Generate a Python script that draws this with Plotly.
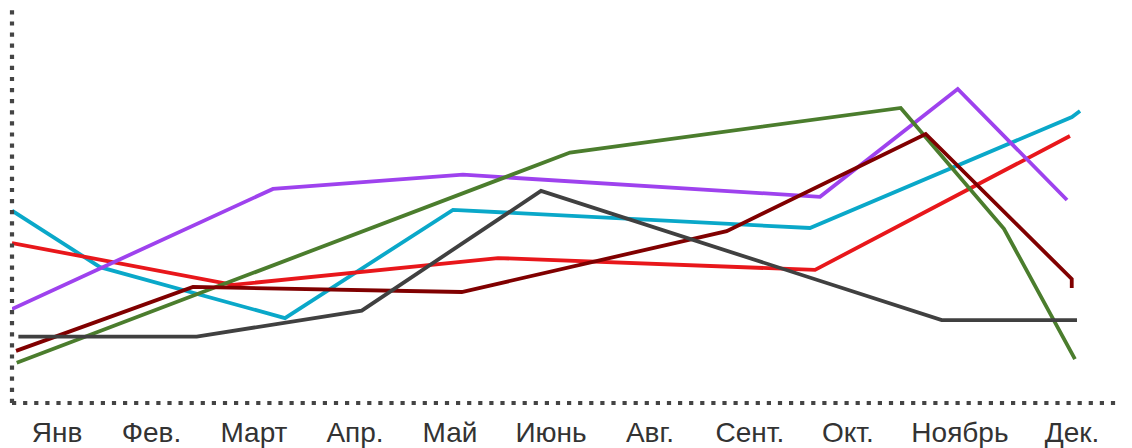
import plotly.graph_objects as go

# Tick labels (month names) and their positions on the x axis (axis units)
month_labels = ["Янв", "Фев.", "Март", "Апр.", "Май", "Июнь", "Авг.", "Сент.", "Окт.", "Ноябрь", "Дек."]
month_pos = [0.447, 1.385, 2.402, 3.405, 4.348, 5.351, 6.334, 7.326, 8.299, 9.411, 10.523]

# Series (x in axis units, y in value units)
teal_x = [0.0, 0.874, 2.710, 4.378, 7.922, 10.523, 10.603]
teal_y = [48.7, 34.4, 21.5, 48.9, 44.3, 72.4, 73.9]

red_x = [0.0, 2.194, 4.825, 7.972, 10.503]
red_y = [40.5, 29.9, 36.7, 33.7, 67.6]

purple_x = [0.0, 2.591, 4.477, 8.022, 9.389, 10.474]
purple_y = [23.8, 54.2, 57.8, 52.2, 79.5, 51.4]

green_x = [0.047, 5.540, 8.823, 9.848, 10.553]
green_y = [10.2, 63.4, 74.7, 44.1, 11.1]

darkred_x = [0.040, 1.797, 4.465, 7.095, 9.071, 10.521, 10.521]
darkred_y = [13.2, 29.4, 28.1, 43.5, 68.1, 31.4, 29.1]

gray_x = [0.063, 1.834, 3.472, 5.252, 9.230, 10.573]
gray_y = [16.8, 16.8, 23.4, 53.7, 21.0, 21.0]

series = [
    (teal_x, teal_y, "#0aa8c9"),
    (red_x, red_y, "#e8171b"),
    (purple_x, purple_y, "#9e42ee"),
    (green_x, green_y, "#4b7d2d"),
    (darkred_x, darkred_y, "#800000"),
    (gray_x, gray_y, "#404040"),
]

fig = go.Figure()
for xs, ys, col in series:
    fig.add_trace(go.Scatter(x=xs, y=ys, mode="lines",
                             line=dict(color=col, width=3.8),
                             showlegend=False, hoverinfo="skip"))

fig.update_layout(
    width=1124, height=440,
    margin=dict(l=4, r=12, t=0, b=45),
    paper_bgcolor="white", plot_bgcolor="white",
    font=dict(family="Liberation Sans, Arial, sans-serif", size=28, color="#333333"),
    xaxis=dict(range=[0, 11], tickmode="array", tickvals=month_pos, ticktext=month_labels,
               showgrid=False, zeroline=False, showline=False, ticks="",
               ticklabelstandoff=10, fixedrange=True, automargin=False),
    yaxis=dict(range=[0, 100], showgrid=False, zeroline=False, showline=False,
               showticklabels=False, ticks="", fixedrange=True),
    shapes=[
        dict(type="line", xref="paper", yref="paper", x0=0, y0=0, x1=1, y1=0,
             line=dict(color="#444444", width=4.2, dash="4.2px,6.9px")),
        dict(type="line", xref="paper", yref="paper", x0=0, y0=0, x1=0, y1=1,
             line=dict(color="#444444", width=4.2, dash="4.2px,6.9px")),
    ],
)

fig.write_html("out.html")
